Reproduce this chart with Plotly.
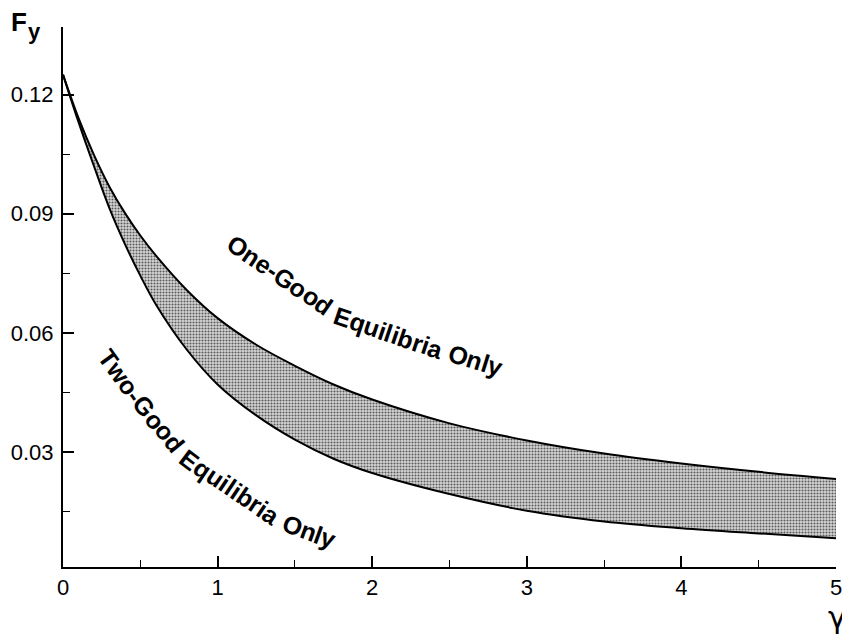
import math
import plotly.graph_objects as go

# ---- data ----
gamma = [0, 0.1, 0.2, 0.3, 0.4, 0.5, 0.6, 0.8, 1.0, 1.25, 1.5, 1.75, 2.0, 2.5, 3.0, 3.5, 4.0, 4.5, 5.0]
f_upper = [0.1250, 0.1141, 0.1048, 0.0968, 0.0902, 0.0845, 0.0795, 0.0708, 0.0637, 0.0570, 0.0517, 0.0470,
           0.0432, 0.0372, 0.0329, 0.0296, 0.0271, 0.0250, 0.0232]
f_lower = [0.1250, 0.1131, 0.1020, 0.0914, 0.0824, 0.0744, 0.0672, 0.0558, 0.0470, 0.0392, 0.0331, 0.0283,
           0.0247, 0.0194, 0.0152, 0.0125, 0.0108, 0.0095, 0.0083]

x_ticks = [0, 1, 2, 3, 4, 5]
x_minor = [0.5, 1.5, 2.5, 3.5, 4.5]
y_ticks = [0.03, 0.06, 0.09, 0.12]
y_minor = [0.015, 0.045, 0.075, 0.105]

label_upper = "One-Good Equilibria Only"
label_lower = "Two-Good Equilibria Only"

# page has an 8px body margin: the figure is drawn 8px smaller and offset
OFF = 8
W, H = 850 - OFF, 640 - OFF
X0, X1, Y0, Y1 = 63, 836, 27, 567          # plot area in window pixels
ML, MT = X0 - OFF, Y0 - OFF
PW, PH = X1 - X0, Y1 - Y0
MR, MB = W - ML - PW, H - MT - PH

FONT = "Liberation Sans, Arial, Helvetica, sans-serif"

fig = go.Figure()
fig.add_trace(go.Scatter(x=gamma, y=f_lower, mode="lines", line=dict(color="black", width=2, shape="spline"),
                         showlegend=False, hoverinfo="skip"))
fig.add_trace(go.Scatter(x=gamma, y=f_upper, mode="lines", line=dict(color="black", width=2, shape="spline"),
                         fill="tonexty", fillcolor="#c4c4c4",
                         fillpattern=dict(shape=".", size=3, solidity=0.4, fgcolor="#5c5c5c", bgcolor="#d6d6d6",
                                          fillmode="replace"),
                         showlegend=False, hoverinfo="skip"))

# ---- curved labels, laid out character by character ----
CW = {'O': 778, 'n': 611, 'e': 556, '-': 333, 'G': 778, 'o': 611, 'd': 611, ' ': 278, 'E': 667, 'q': 611,
      'u': 611, 'i': 278, 'l': 278, 'b': 611, 'r': 389, 'a': 556, 'y': 556, 'T': 611, 'w': 778}


def px2paper(px, py):
    return (px - X0) / PW, (Y1 - py) / PH


def place(text, pts, size):
    L = [0.0]
    for i in range(len(pts) - 1):
        L.append(L[-1] + math.dist(pts[i], pts[i + 1]))

    def at(s):
        s = max(0.0, min(L[-1], s))
        for i in range(len(pts) - 1):
            if s <= L[i + 1] or i == len(pts) - 2:
                t = (s - L[i]) / (L[i + 1] - L[i])
                return (pts[i][0] + t * (pts[i + 1][0] - pts[i][0]),
                        pts[i][1] + t * (pts[i + 1][1] - pts[i][1]))

    total = sum(CW[c] for c in text) * size / 1000
    k = L[-1] / total
    s = 0.0
    for c in text:
        w = CW[c] * size / 1000 * k
        mid = s + w / 2
        x, y = at(mid)
        x1, y1 = at(mid - 7)
        x2, y2 = at(mid + 7)
        ang = math.degrees(math.atan2(y2 - y1, x2 - x1))
        if c != ' ':
            xp, yp = px2paper(x, y)
            fig.add_annotation(x=xp, y=yp, xref="paper", yref="paper", text="<b>%s</b>" % c,
                               showarrow=False, textangle=ang, xanchor="center", yanchor="middle",
                               font=dict(family=FONT, size=size, color="black"))
        s += w


path_upper = [(229.3, 240.7), (280, 275), (331.7, 310.7), (335, 315), (439.3, 350), (446.7, 351), (501.7, 368.3)]
path_lower = [(104, 351.7), (137.3, 398.3), (180.7, 450.7), (186, 457.3), (278.3, 519.3), (285, 522.7), (335, 540.7)]
place(label_upper, path_upper, 25)
place(label_lower, path_lower, 25)

# axis titles
fx, fy = px2paper(9, 22)
fig.add_annotation(x=fx, y=fy, xref="paper", yref="paper", text="<b>F</b>", showarrow=False,
                   xanchor="left", yanchor="middle", font=dict(family=FONT, size=26, color="black"))
sx, sy = px2paper(26, 31)
fig.add_annotation(x=sx, y=sy, xref="paper", yref="paper", text="<b>y</b>", showarrow=False,
                   xanchor="left", yanchor="middle", font=dict(family=FONT, size=22, color="black"))
gx, gy = px2paper(836.5, 617)
fig.add_annotation(x=gx, y=gy, xref="paper", yref="paper", text="γ", showarrow=False,
                   xanchor="center", yanchor="middle", font=dict(family="DejaVu Sans", size=31, color="black"))

fig.update_xaxes(range=[0, 5], tickvals=x_ticks, ticktext=[str(v) for v in x_ticks],
                 showline=True, linecolor="black", linewidth=2, ticks="inside", ticklen=11, tickwidth=1.5,
                 tickcolor="black", showgrid=False, zeroline=False,
                 minor=dict(tickvals=x_minor, ticks="inside", ticklen=7, tickwidth=1.2, tickcolor="black",
                            showgrid=False),
                 tickfont=dict(family=FONT, size=22, color="black"))
fig.update_yaxes(range=[0.00104, 0.137], tickvals=y_ticks, ticktext=["%.2f" % v for v in y_ticks],
                 showline=True, linecolor="black", linewidth=2, ticks="inside", ticklen=11, tickwidth=1.5,
                 tickcolor="black", showgrid=False, zeroline=False, ticklabelstandoff=3,
                 minor=dict(tickvals=y_minor, ticks="inside", ticklen=7, tickwidth=1.2, tickcolor="black",
                            showgrid=False),
                 tickfont=dict(family=FONT, size=22, color="black"))

fig.update_layout(width=W, height=H, margin=dict(l=ML, r=MR, t=MT, b=MB, autoexpand=False),
                  paper_bgcolor="white", plot_bgcolor="white", showlegend=False)

fig.write_html("out.html")
